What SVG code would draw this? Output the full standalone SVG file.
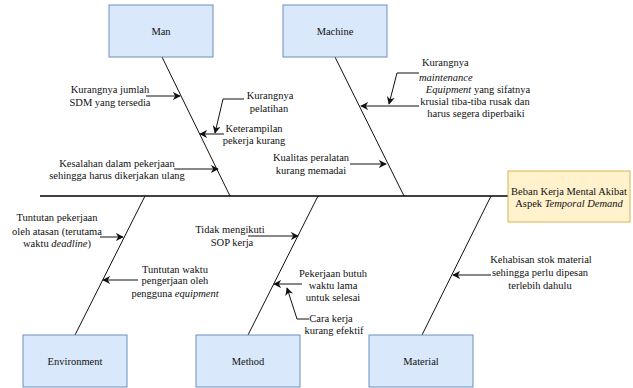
<svg xmlns="http://www.w3.org/2000/svg" width="633" height="388" viewBox="0 0 633 388" font-family="'Liberation Serif', serif">
  <style>
    .cat rect { fill: #dae8fc; stroke: #6c8ebf; stroke-width: 1; }
    .eff rect { fill: #fff2cc; stroke: #d6b656; stroke-width: 1; }
    text { font-family: 'Liberation Serif', serif; font-size: 10.5px; fill: #111; }
    .c { text-anchor: middle; }
    .it { font-style: italic; }
    .bone { stroke: #111; stroke-width: 1; fill: none; }
    .spine { stroke: #000; stroke-width: 1.5; fill: none; }
    .arr { stroke: #111; stroke-width: 1; fill: none; marker-end: url(#head); }
  </style>
  <defs>
    <marker id="head" viewBox="0 0 10 10" refX="9" refY="5" markerWidth="8" markerHeight="8" markerUnits="userSpaceOnUse" orient="auto">
      <path d="M0,0 L10,5 L0,10 L3,5 z" fill="#111"/>
    </marker>
  </defs>

  <rect width="633" height="388" fill="#fff"/>

  <!-- spine and category bones, cause arrows -->
  <g id="connectors">
    <line class="spine" x1="40" y1="196" x2="508" y2="196"/>
    <line class="bone" x1="162" y1="57" x2="230" y2="196"/>
    <line class="bone" x1="335" y1="57" x2="404" y2="196"/>
    <line class="bone" x1="75" y1="335" x2="145" y2="196"/>
    <line class="bone" x1="248" y1="335" x2="318" y2="196"/>
    <line class="bone" x1="422" y1="335" x2="491" y2="196"/>

    <!-- Man -->
    <line class="arr" x1="146" y1="96" x2="180" y2="96"/>
    <path class="arr" d="M244,99 L223,99 L215,133"/>
    <line class="arr" x1="224" y1="134" x2="200" y2="134"/>
    <line class="arr" x1="174" y1="169" x2="218" y2="169"/>
    <!-- Machine -->
    <line class="arr" x1="350" y1="164" x2="386" y2="164"/>
    <path class="arr" d="M419,73 L397,73 L389,104"/>
    <line class="arr" x1="419" y1="106" x2="361" y2="106"/>
    <!-- Environment -->
    <line class="arr" x1="100" y1="237" x2="123" y2="237"/>
    <line class="arr" x1="138" y1="280" x2="103" y2="280"/>
    <!-- Method -->
    <line class="arr" x1="248" y1="236" x2="298" y2="236"/>
    <line class="arr" x1="302" y1="284" x2="274" y2="284"/>
    <path class="arr" d="M309,319 L297,319 L287,288"/>
    <!-- Material -->
    <line class="arr" x1="491" y1="275" x2="453" y2="275"/>
  </g>

  <g id="man" class="cat">
    <rect x="109" y="5" width="104" height="52"/>
    <text class="c" x="161" y="35">Man</text>
  </g>
  <g id="machine" class="cat">
    <rect x="283" y="5" width="104" height="52"/>
    <text class="c" x="335" y="35">Machine</text>
  </g>
  <g id="environment" class="cat">
    <rect x="23" y="335" width="104" height="52"/>
    <text class="c" x="75" y="365">Environment</text>
  </g>
  <g id="method" class="cat">
    <rect x="196" y="335" width="104" height="52"/>
    <text class="c" x="248" y="365">Method</text>
  </g>
  <g id="material" class="cat">
    <rect x="369" y="335" width="104" height="52"/>
    <text class="c" x="421" y="365">Material</text>
  </g>
  <g id="effect" class="eff">
    <rect x="508" y="171" width="122" height="51"/>
    <text class="c" x="569" y="194.5">Beban Kerja Mental Akibat</text>
    <text class="c" x="569" y="206.5">Aspek <tspan class="it">Temporal Demand</tspan></text>
  </g>

  <!-- cause labels -->
  <g id="man-causes">
    <text class="c" x="110" y="92.5">Kurangnya jumlah</text>
    <text class="c" x="110" y="105.5">SDM yang tersedia</text>
    <text class="c" x="270" y="98.5">Kurangnya</text>
    <text class="c" x="269" y="111.5">pelatihan</text>
    <text class="c" x="254" y="131.5">Keterampilan</text>
    <text class="c" x="254" y="143.5">pekerja kurang</text>
    <text class="c" x="117" y="166.5">Kesalahan dalam pekerjaan</text>
    <text class="c" x="117" y="178.5">sehingga harus dikerjakan ulang</text>
  </g>
  <g id="machine-causes">
    <text class="c" x="311" y="160.5">Kualitas peralatan</text>
    <text class="c" x="311" y="173.5">kurang memadai</text>
    <text x="422" y="65.5">Kurangnya</text>
    <text class="it" x="419" y="80.5">maintenance</text>
    <text class="c" x="478" y="92.5"><tspan class="it">Equipment</tspan> yang sifatnya</text>
    <text class="c" x="475" y="104.5">krusial tiba-tiba rusak dan</text>
    <text class="c" x="476" y="116.5">harus segera diperbaiki</text>
  </g>
  <g id="environment-causes">
    <text class="c" x="57" y="220.5">Tuntutan pekerjaan</text>
    <text class="c" x="57" y="234.5">oleh atasan (terutama</text>
    <text class="c" x="57" y="246.5">waktu <tspan class="it">deadline</tspan>)</text>
    <text class="c" x="175" y="272.5">Tuntutan waktu</text>
    <text class="c" x="175" y="283.5">pengerjaan oleh</text>
    <text class="c" x="175" y="296.5">pengguna <tspan class="it">equipment</tspan></text>
  </g>
  <g id="method-causes">
    <text class="c" x="230" y="232.5">Tidak mengikuti</text>
    <text class="c" x="232" y="245.5">SOP kerja</text>
    <text class="c" x="333" y="276.5">Pekerjaan butuh</text>
    <text class="c" x="333" y="288.5">waktu lama</text>
    <text class="c" x="333" y="301">untuk selesai</text>
    <text class="c" x="331" y="321.5">Cara kerja</text>
    <text class="c" x="334" y="333.5">kurang efektif</text>
  </g>
  <g id="material-causes">
    <text class="c" x="541" y="262.5">Kehabisan stok material</text>
    <text class="c" x="540" y="275.5">sehingga perlu dipesan</text>
    <text class="c" x="540" y="288.5">terlebih dahulu</text>
  </g>
</svg>
